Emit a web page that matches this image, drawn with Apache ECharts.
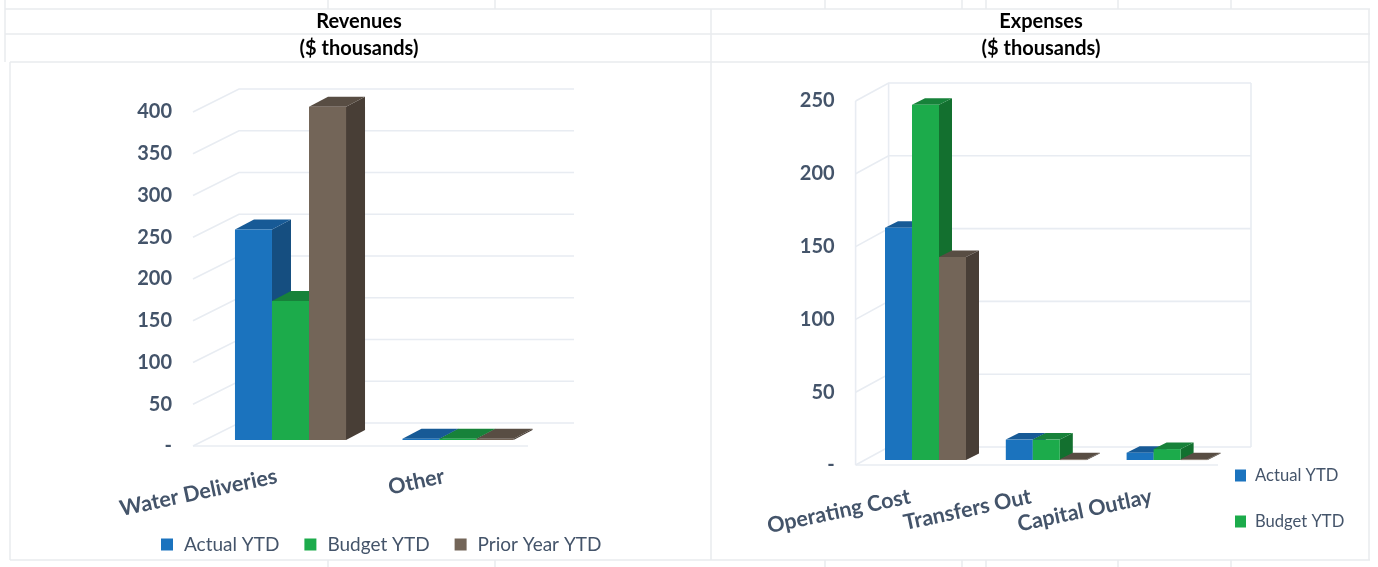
<!DOCTYPE html>
<html>
<head>
<meta charset="utf-8">
<style>html,body{margin:0;padding:0;background:#fff}#c{width:1378px;height:567px}</style>
<script src="https://cdn.jsdelivr.net/npm/echarts@6/dist/echarts.min.js"></script>
</head>
<body>
<div id="c"></div>
<script>
const revenueCategories = ['Water Deliveries', 'Other'];
const revenueActual = [252, 1.5];
const revenueBudget = [166.5, 1.5];
const revenuePrior = [399, 1.5];
const expenseCategories = ['Operating Cost', 'Transfers Out', 'Capital Outlay'];
const expenseActual = [159.5, 14, 5];
const expenseBudget = [244, 14, 7.5];
const expensePrior = [139.5, 0.5, 0.5];
const revenueTicks = [0, 50, 100, 150, 200, 250, 300, 350, 400];
const expenseTicks = [0, 50, 100, 150, 200, 250];
const seriesNames = ['Actual YTD', 'Budget YTD', 'Prior Year YTD'];

const palette = [
  { front: '#1B73BE', side: '#154E80', top: '#175A96' },
  { front: '#1CAB4B', side: '#13702F', top: '#17823A' },
  { front: '#736558', side: '#483E36', top: '#584D43' }
];
const FONT = 'Lato';
const INK = '#44546A';
const WALL = '#E8ECF2';
const chart = echarts.init(document.getElementById('c'));

// projection of each panel: wall depth, bar plane offset, bar depth
const views = [
  { wall: [46, -23], plane: [13.75, -6], depth: [19, -10], ratio: 0.221, sideWall: false },
  { wall: [33, -18], plane: [9.5, -5], depth: [13, -6.5], ratio: 0.2235, sideWall: true }
];

function wallRenderer(view, ticks) {
  return function (params, api) {
    const v = api.value(0);
    const rect = params.coordSys;
    const y = api.coord([0, v])[1];
    const L = rect.x, R = rect.x + rect.width;
    const [wx, wy] = view.wall;
    const style = { stroke: WALL, lineWidth: 1.6, fill: null };
    const kids = [
      { type: 'polyline', shape: { points: [[L, y], [L + wx, y + wy], [R + wx, y + wy]] }, style }
    ];
    if (v === 0) {
      kids.push({ type: 'line', shape: { x1: L, y1: y, x2: R, y2: y }, style });
      if (view.sideWall) {
        const topY = api.coord([0, ticks[ticks.length - 1]])[1];
        kids.push({ type: 'line', shape: { x1: L, y1: y, x2: L, y2: topY }, style });
        kids.push({ type: 'line', shape: { x1: L + wx, y1: y + wy, x2: L + wx, y2: topY + wy }, style });
        kids.push({ type: 'line', shape: { x1: R + wx, y1: y + wy, x2: R + wx, y2: topY + wy }, style });
      }
    }
    return { type: 'group', silent: true, children: kids };
  };
}

function barRenderer(view, idx) {
  const c = palette[idx];
  return function (params, api) {
    const p = api.coord([api.value(0), api.value(1)]);
    const base = api.coord([api.value(0), 0]);
    const w = api.size([1, 0])[0] * view.ratio;
    const x0 = p[0] + view.plane[0] + (idx - 1.5) * w;
    const x1 = x0 + w;
    const yT = p[1] + view.plane[1];
    const yB = base[1] + view.plane[1];
    const [dx, dy] = view.depth;
    return {
      type: 'group',
      children: [
        { type: 'polygon', shape: { points: [[x1, yT], [x1 + dx, yT + dy], [x1 + dx, yB + dy], [x1, yB]] },
          style: { fill: c.side } },
        { type: 'polygon', shape: { points: [[x0, yT], [x0 + dx, yT + dy], [x1 + dx, yT + dy], [x1, yT]] },
          style: { fill: c.top } },
        { type: 'rect', shape: { x: x0, y: yT, width: w, height: Math.max(yB - yT, 0.8) },
          style: { fill: c.front } }
      ]
    };
  };
}

function panelSeries(axisIdx, ticks, cols) {
  const view = views[axisIdx];
  const out = [{
    type: 'custom', xAxisIndex: axisIdx, yAxisIndex: axisIdx, clip: false, silent: true, z: 1,
    renderItem: wallRenderer(view, ticks),
    encode: { y: 0 },
    data: ticks.map(t => [t])
  }];
  cols.forEach((vals, idx) => out.push({
    name: seriesNames[idx], type: 'custom', xAxisIndex: axisIdx, yAxisIndex: axisIdx, clip: false, z: 2,
    itemStyle: { color: palette[idx].front },
    renderItem: barRenderer(view, idx),
    encode: { x: 0, y: 1 },
    data: vals.map((v, i) => [i, v])
  }));
  return out;
}

function catAxis(grid, data, pad) {
  return {
    type: 'category', gridIndex: grid, data, boundaryGap: true,
    axisLine: { show: false }, axisTick: { show: false }, splitLine: { show: false },
    axisLabel: { interval: 0, rotate: 12, margin: 30, padding: [0, pad, 0, 0],
      color: INK, fontFamily: FONT, fontWeight: 'bold', fontSize: 21.5 }
  };
}
function valAxis(grid, max) {
  return {
    type: 'value', gridIndex: grid, min: 0, max, interval: 50,
    axisLine: { show: false }, axisTick: { show: false }, splitLine: { show: false },
    axisLabel: { margin: 21, color: INK, fontFamily: FONT, fontWeight: 'bold', fontSize: 20,
      formatter: v => v === 0 ? '-' : String(v) }
  };
}

const tableLines = [
  [5, 9, 1370, 9], [5, 34, 1370, 34], [10, 62, 1370, 62], [10, 560, 1370, 560],
  [5, 0, 5, 62], [10, 62, 10, 560], [711, 9, 711, 560], [1369, 9, 1369, 560],
  [328, 0, 328, 9], [495, 0, 495, 9], [825, 0, 825, 9], [962, 0, 962, 9], [986, 0, 986, 9],
  [1118, 0, 1118, 9], [1231, 0, 1231, 9],
  [328, 560, 328, 567], [495, 560, 495, 567], [825, 560, 825, 567], [962, 560, 962, 567],
  [986, 560, 986, 567], [1118, 560, 1118, 567], [1231, 560, 1231, 567]
];

const titleStyle = { color: '#000', fontFamily: FONT, fontWeight: 'bold', fontSize: 20 };

chart.setOption({
  backgroundColor: '#fff',
  animation: false,
  title: [
    { text: 'Revenues', left: 354, top: 7, textAlign: 'center', textStyle: titleStyle },
    { text: '($ thousands)', left: 354, top: 34, textAlign: 'center', textStyle: titleStyle },
    { text: 'Expenses', left: 1036, top: 7, textAlign: 'center', textStyle: titleStyle },
    { text: '($ thousands)', left: 1036, top: 34, textAlign: 'center', textStyle: titleStyle }
  ],
  grid: [
    { left: 193, top: 112, width: 335, height: 334, containLabel: false },
    { left: 855.6, top: 101, width: 362.4, height: 364, containLabel: false }
  ],
  xAxis: [catAxis(0, revenueCategories, 0), catAxis(1, expenseCategories, 6)],
  yAxis: [valAxis(0, 400), valAxis(1, 250)],
  legend: [
    { data: seriesNames, left: 161, top: 535, itemWidth: 12, itemHeight: 12, itemGap: 25, icon: 'rect',
      textStyle: { color: INK, fontFamily: FONT, fontSize: 19, padding: [0, 0, 0, 6] }, padding: 0 },
    { data: seriesNames.slice(0, 2), left: 1235, top: 467, orient: 'vertical', itemWidth: 11, itemHeight: 12,
      itemGap: 29, icon: 'rect', textStyle: { color: INK, fontFamily: FONT, fontSize: 16.6, padding: [0, 0, 0, 4] }, padding: 0 }
  ],
  series: [
    ...panelSeries(0, revenueTicks, [revenueActual, revenueBudget, revenuePrior]),
    ...panelSeries(1, expenseTicks, [expenseActual, expenseBudget, expensePrior])
  ],
  graphic: tableLines.map(s => ({
    type: 'line', silent: true, z: -10,
    shape: { x1: s[0], y1: s[1], x2: s[2], y2: s[3] },
    style: { stroke: '#E9EBEE', lineWidth: 1.5 }
  }))
});
</script>
</body>
</html>
